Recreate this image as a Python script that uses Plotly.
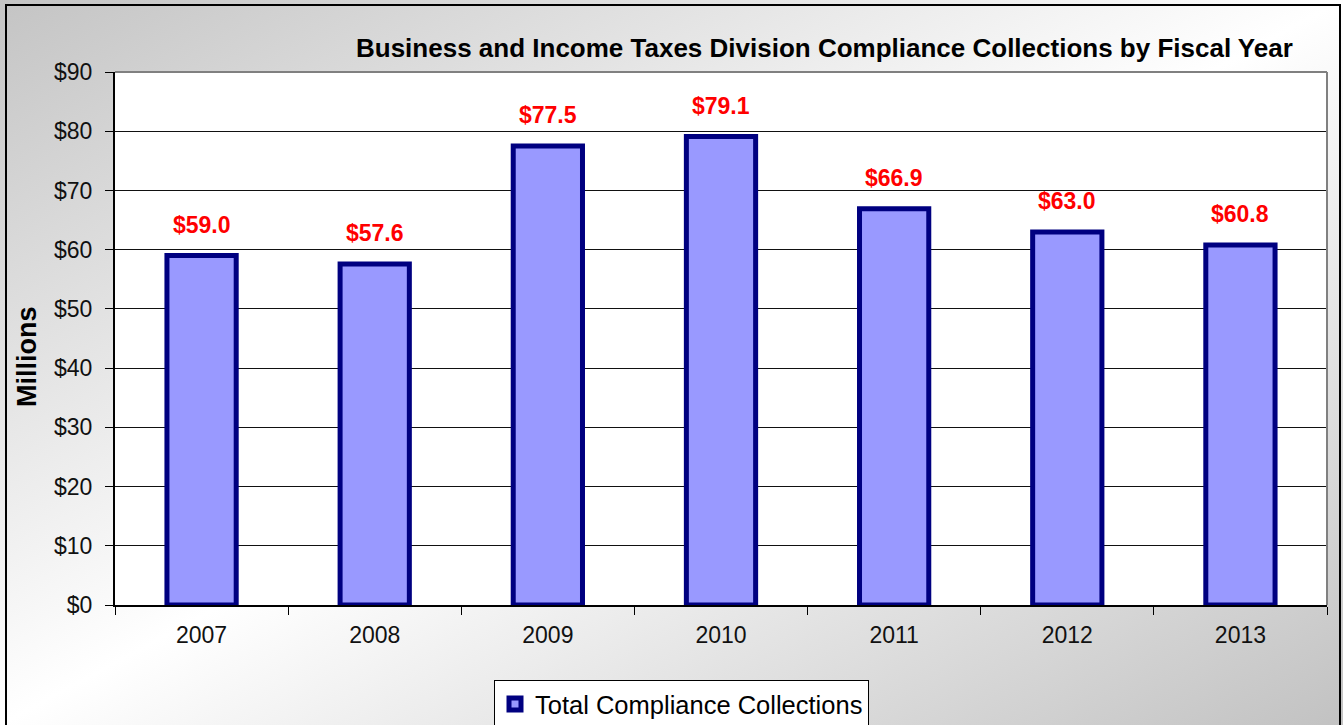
import base64
import plotly.graph_objects as go

years = ["2007", "2008", "2009", "2010", "2011", "2012", "2013"]
collections = [59.0, 57.6, 77.5, 79.1, 66.9, 63.0, 60.8]
y_ticks = [0, 10, 20, 30, 40, 50, 60, 70, 80, 90]
y_tick_labels = ["$" + str(v) for v in y_ticks]
series_name = "Total Compliance Collections"
title_text = "Business and Income Taxes Division Compliance Collections by Fiscal Year"
y_title = "Millions"

W, H = 1343, 725
ML, MR, MT, MB = 115, 16, 72, 120
PW, PH = W - ML - MR, H - MT - MB

def px_x(p):
    return (p - ML) / PW

def px_y(p):
    return (H - MB - p) / PH

FONT = "Liberation Sans, Arial, sans-serif"

svg = (
    f'<svg xmlns="http://www.w3.org/2000/svg" width="{W}" height="{H}">'
    '<defs><linearGradient id="g" x1="0" y1="0" x2="1" y2="1">'
    '<stop offset="0" stop-color="#c4c4c4"/>'
    '<stop offset="0.5" stop-color="#ffffff"/>'
    '<stop offset="1" stop-color="#c2c2c2"/>'
    '</linearGradient></defs>'
    f'<rect x="0" y="0" width="{W}" height="{H}" fill="url(#g)"/></svg>'
)
svg_uri = "data:image/svg+xml;base64," + base64.b64encode(svg.encode()).decode()

idx = list(range(len(years)))

fig = go.Figure()
fig.add_trace(go.Bar(
    x=years, y=collections, name=series_name,
    width=0.4,
    marker=dict(color="#9999FF", line=dict(color="#000080", width=5)),
    showlegend=True,
))

for i, v in zip(idx, collections):
    fig.add_annotation(
        x=i, y=v, xref="x", yref="y", text=f"${v:.1f}",
        showarrow=False, yanchor="middle", yshift=31,
        font=dict(family=FONT, size=23, color="#FF0000", weight="bold"),
    )

fig.add_annotation(
    x=px_x(824), y=px_y(48), xref="paper", yref="paper", text=f"<b>{title_text}</b>",
    showarrow=False, xanchor="center", yanchor="middle",
    font=dict(family=FONT, size=26, color="#000000"),
)
fig.add_annotation(
    x=px_x(27), y=px_y(357), xref="paper", yref="paper", text=f"<b>{y_title}</b>",
    showarrow=False, textangle=-90, xanchor="center", yanchor="middle",
    font=dict(family=FONT, size=27, color="#000000"),
)

fig.add_layout_image(dict(
    source=svg_uri, xref="paper", yref="paper",
    x=px_x(0), y=px_y(0), sizex=W / PW, sizey=H / PH,
    xanchor="left", yanchor="top", sizing="stretch", layer="below",
))

shapes = [
    dict(type="rect", xref="paper", yref="paper", x0=0, x1=1, y0=0, y1=1,
         fillcolor="white", line=dict(width=0), layer="below"),
    dict(type="line", xref="paper", yref="paper", x0=0, x1=1, y0=1, y1=1,
         line=dict(color="#808080", width=2), layer="above"),
    dict(type="line", xref="paper", yref="paper", x0=1, x1=1, y0=0, y1=1,
         line=dict(color="#808080", width=2), layer="above"),
    dict(type="rect", xref="paper", yref="paper",
         x0=px_x(6), x1=px_x(1340), y0=px_y(5), y1=px_y(730),
         line=dict(color="#000000", width=2), fillcolor="rgba(0,0,0,0)", layer="above"),
]

fig.update_layout(
    width=W, height=H,
    margin=dict(l=ML, r=MR, t=MT, b=MB, pad=0, autoexpand=False),
    paper_bgcolor="#e6e6e6", plot_bgcolor="white",
    font=dict(family=FONT, size=20, color="#111111"),
    shapes=shapes,
    xaxis=dict(
        type="category", range=[-0.5, len(years) - 0.5], autorange=False,
        showgrid=False, showline=True, linecolor="#000000", linewidth=2,
        ticks="outside", tickson="boundaries", ticklen=8, tickcolor="#000000", tickwidth=1,
        tickfont=dict(family=FONT, size=23, color="#111111"), ticklabelstandoff=8,
        tickangle=0, zeroline=False, automargin=False,
    ),
    yaxis=dict(
        range=[0, 90], autorange=False, tickvals=y_ticks, ticktext=y_tick_labels,
        showgrid=True, gridcolor="#111111", gridwidth=1,
        showline=True, linecolor="#000000", linewidth=2,
        ticks="outside", ticklen=8, tickcolor="#000000", tickwidth=1,
        tickfont=dict(family=FONT, size=23, color="#111111"), ticklabelstandoff=8,
        zeroline=False, automargin=False,
    ),
    legend=dict(
        orientation="h", x=px_x(681.5), xanchor="center", y=px_y(680), yanchor="top",
        bgcolor="white", bordercolor="#000000", borderwidth=1,
        font=dict(family=FONT, size=25.5, color="#000000"),
        itemwidth=30,
    ),
    showlegend=True,
)

fig.write_html(
    "out.html",
    config={"displayModeBar": False},
    post_script="document.body.style.margin='0';document.body.style.overflow='hidden';",
)
